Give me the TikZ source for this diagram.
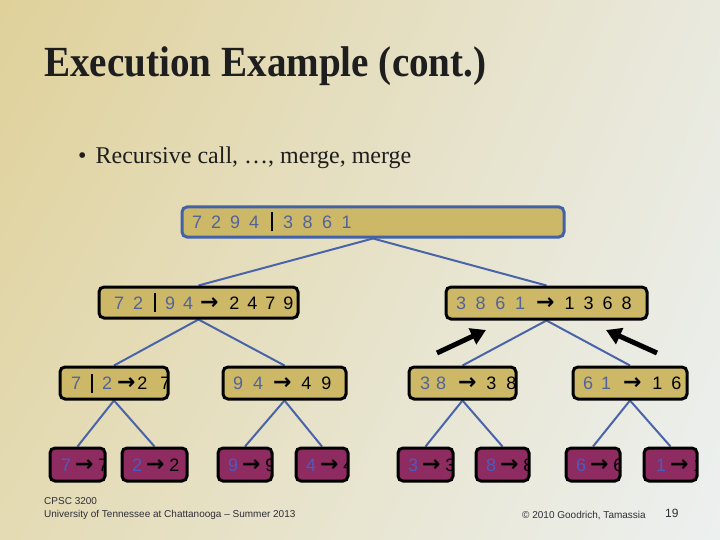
\documentclass[tikz,border=0pt]{standalone}
\usepackage{fontspec}
\setmainfont{Liberation Serif}
\newfontfamily\sansf{Liberation Sans}
\newfontfamily\arrf{DejaVu Sans}
\usetikzlibrary{arrows.meta,shadings}
\definecolor{tanfill}{HTML}{CDB868}
\definecolor{rootblue}{HTML}{4262A8}
\definecolor{digblue}{HTML}{52639A}
\definecolor{leafblue}{HTML}{4B5CC0}
\definecolor{purp}{HTML}{8E2B60}
\definecolor{linkblue}{HTML}{4A64AA}
\definecolor{titlecol}{HTML}{1E1E1E}
\definecolor{footcol}{HTML}{2E2E36}
\definecolor{bgul}{HTML}{E0D19A}
\definecolor{bgur}{HTML}{E9E9DE}
\definecolor{bgll}{HTML}{E4DBB4}
\definecolor{bglr}{HTML}{ECF0F0}
\newcommand{\hg}[1]{\hspace{#1pt}}
\newcommand{\myarr}{{\arrf\bfseries\fontsize{22}{22}\selectfont →}}
\newcommand{\mybar}{\rule[-3pt]{2pt}{19pt}}
\newcommand{\bl}[1]{\textcolor{digblue}{#1}}
\newcommand{\lb}[1]{\textcolor{leafblue}{#1}}
\pgfdeclarelayer{back}
\pgfdeclarelayer{bg}
\pgfsetlayers{back,bg,main}
\tikzset{
  txt/.style={inner sep=0pt, minimum width=0pt, minimum height=0pt, draw=none, fill=none,
    rounded corners=0pt, font=\sansf\fontsize{18}{18}\selectfont, text=black},
  rootbox/.style={draw=rootblue, line width=3pt, fill=tanfill, rounded corners=5pt, inner sep=0pt},
  midbox/.style={draw=black, line width=3pt, fill=tanfill, rounded corners=5pt, inner sep=0pt},
  leafbox/.style={draw=black, line width=3pt, fill=purp, rounded corners=5pt, inner sep=0pt},
  link/.style={draw=linkblue, line width=2pt},
  bigarrow/.style={draw=black, line width=5pt, -{Triangle[length=15pt,width=17pt]}},
  foot/.style={inner sep=0pt, text=footcol, font=\sansf\fontsize{10}{12}\selectfont}
}
% #1 style, #2 name, #3 x, #4 y, #5 w, #6 h, #7 text xshift, #8 text
\newcommand{\mkbox}[8]{%
  \node[#1, anchor=north west, minimum width=#5pt, minimum height=#6pt,
    path picture={\node[txt, anchor=base west] (#2t) at ([xshift=#7pt, yshift=-6.5pt]path picture bounding box.west) {#8};}]
    (#2) at (#3,#4) {};}
\begin{document}
\begin{tikzpicture}[x=1pt,y=-1pt]
\useasboundingbox (0,0) rectangle (720,540);
\begin{pgfonlayer}{back}
\shade[upper left=bgul, upper right=bgur, lower left=bgll, lower right=bglr]
  (0,0) rectangle (720,540);
\end{pgfonlayer}

\node[anchor=base west, inner sep=0pt, text=titlecol] (title) at (44,77)
  {\scalebox{0.91}[1]{\fontsize{43}{43}\selectfont\bfseries Execution Example (cont.)}};
\node[anchor=base west, inner sep=0pt, text=titlecol] (bullet) at (78,164)
  {\fontsize{24}{24}\selectfont •\hg{9}Recursive call, …, merge, merge};

% root
\mkbox{rootbox}{root}{180.5}{205.5}{382}{30}{8.5}{\bl{7\hg{9}2\hg{9}9\hg{9}4}\hg{12}\mybar\hg{10}\bl{3\hg{9.5}8\hg{9.5}6\hg{9.5}1}}
% level 1
\mkbox{midbox}{la}{97.5}{285.5}{199}{31}{13.5}{\bl{7\hg{9}2}\hg{11}\mybar\hg{9}\bl{9\hg{8}4}\hg{7}\myarr\hg{11}2\hg{8}4\hg{8}7\hg{8}9}
\mkbox{midbox}{lb}{444.5}{285.5}{201}{32}{8.5}{\bl{3\hg{9.7}8\hg{9.7}6\hg{9.7}1}\hg{11}\myarr\hg{10}1\hg{9}3\hg{9}6\hg{9}8}
% level 2
\mkbox{midbox}{ma}{58.5}{365.5}{108}{32}{9.5}{\bl{7}\hg{10}\mybar\hg{9}\bl{2}\hg{5}\myarr\hg{2}2\hg{13}7}
\mkbox{midbox}{mb}{221.5}{365.5}{123}{32}{8.5}{\bl{9\hg{10}4}\hg{10}\myarr\hg{10}4\hg{10}9}
\mkbox{midbox}{mc}{407.5}{365.5}{107}{32}{9.5}{\bl{3\hg{6}8}\hg{12}\myarr\hg{10}3\hg{10}8}
\mkbox{midbox}{md}{571.5}{365.5}{114}{32}{8.5}{\bl{6\hg{8}1}\hg{12}\myarr\hg{11}1\hg{9}6}
% level 3
\mkbox{leafbox}{na}{48.5}{446.5}{55}{33}{9.5}{\lb{7}\hg{4}\myarr\hg{5}7}
\mkbox{leafbox}{nb}{120.5}{446.5}{65}{33}{8.5}{\lb{2}\hg{4}\myarr\hg{5}2}
\mkbox{leafbox}{nc}{216.5}{446.5}{54}{33}{8.5}{\lb{9}\hg{4}\myarr\hg{5}9}
\mkbox{leafbox}{nd}{294.5}{446.5}{52}{33}{8.5}{\lb{4}\hg{4}\myarr\hg{5}4}
\mkbox{leafbox}{ne}{396.5}{446.5}{55}{33}{8.5}{\lb{3}\hg{4}\myarr\hg{5}3}
\mkbox{leafbox}{nf}{474.5}{446.5}{53}{33}{8.5}{\lb{8}\hg{4}\myarr\hg{5}8}
\mkbox{leafbox}{ng}{564.5}{446.5}{54}{33}{8.5}{\lb{6}\hg{4}\myarr\hg{5}6}
\mkbox{leafbox}{nh}{642.5}{446.5}{53}{33}{10.5}{\lb{1}\hg{4}\myarr\hg{5}1}

\begin{pgfonlayer}{bg}
\draw[link] (root.south) -- (la.north);
\draw[link] (root.south) -- (lb.north);
\draw[link] (la.south) -- (ma.north);
\draw[link] (la.south) -- (mb.north);
\draw[link] (lb.south) -- (mc.north);
\draw[link] (lb.south) -- (md.north);
\draw[link] (ma.south) -- (na.north);
\draw[link] (ma.south) -- (nb.north);
\draw[link] (mb.south) -- (nc.north);
\draw[link] (mb.south) -- (nd.north);
\draw[link] (mc.south) -- (ne.north);
\draw[link] (mc.south) -- (nf.north);
\draw[link] (md.south) -- (ng.north);
\draw[link] (md.south) -- (nh.north);
\end{pgfonlayer}

\coordinate (a1s) at (437,353);
\coordinate (a1e) at (486,330);
\coordinate (a2s) at (657,353);
\coordinate (a2e) at (606,330);
\draw[bigarrow] (a1s) -- (a1e);
\draw[bigarrow] (a2s) -- (a2e);

\node[foot, anchor=base west] (f1) at (44,504) {CPSC 3200};
\node[foot, anchor=base west] (f2) at (44,517) {University of Tennessee at Chattanooga – Summer 2013};
\node[foot, anchor=base west] (f3) at (522,518) {© 2010 Goodrich, Tamassia};
\node[foot, anchor=base west, font=\sansf\fontsize{12}{14}\selectfont] (f4) at (665,517) {19};
\end{tikzpicture}
\end{document}
